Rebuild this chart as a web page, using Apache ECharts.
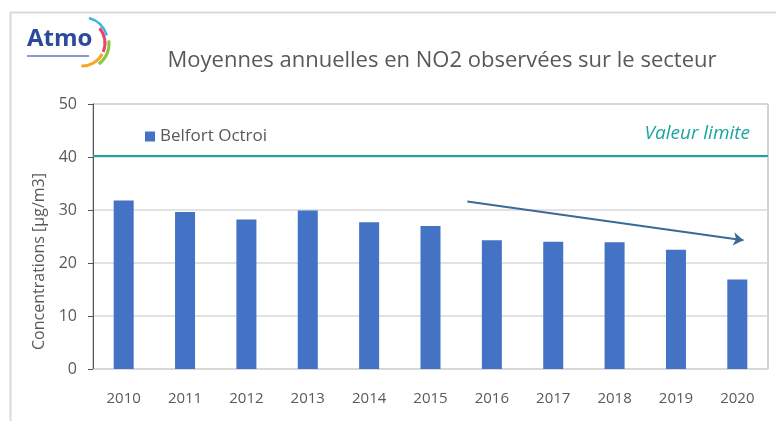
<!DOCTYPE html>
<html>
<head>
<meta charset="utf-8">
<script src="https://cdn.jsdelivr.net/npm/echarts@6/dist/echarts.min.js"></script>
<style>
html, body { margin: 0; padding: 0; background: #fff; }
#main { width: 776px; height: 421px; }
</style>
</head>
<body>
<div id="main"></div>
<script>
var years = ['2010', '2011', '2012', '2013', '2014', '2015', '2016', '2017', '2018', '2019', '2020'];
var belfortOctroi = [31.8, 29.6, 28.2, 29.9, 27.7, 27.0, 24.3, 24.0, 23.9, 22.5, 16.9];
var valeurLimite = 40.3;
// tendance (fleche) : positions en rang de categorie / valeur
var trendX = [6.1, 10.6];
var trendY = [31.6, 24.3];

var font = '"Open Sans", "Noto Sans", sans-serif';
var myChart = echarts.init(document.getElementById('main'));
var option = {
	animation: false,
	title: {
		text: 'Moyennes annuelles en NO2 observées sur le secteur',
		left: 437,
		top: 45,
		textAlign: 'center',
		textStyle: { fontFamily: font, fontSize: 22, fontWeight: 'normal', color: '#595959' }
	},
	legend: {
		data: ['Belfort Octroi'],
		left: 140,
		top: 123,
		icon: 'rect',
		itemWidth: 10,
		itemHeight: 10,
		itemGap: 8,
		textStyle: { fontFamily: font, fontSize: 17, color: '#595959' }
	},
	grid: {
		left: 93, right: 8, top: 104, bottom: 52,
		show: true, borderColor: '#a6a6a6', borderWidth: 1
	},
	xAxis: [{
		type: 'category',
		data: years,
		axisTick: { show: false },
		axisLine: { lineStyle: { color: '#d9d9d9' } },
		axisLabel: { fontFamily: font, fontSize: 15, color: '#595959', margin: 22 }
	}, {
		type: 'value',
		min: 0, max: 11,
		show: false
	}],
	yAxis: {
		type: 'value',
		min: 0, max: 50, interval: 10,
		name: 'Concentrations [µg/m3]',
		nameLocation: 'middle',
		nameGap: 44,
		nameTextStyle: { fontFamily: font, fontSize: 16, color: '#595959', padding: [0, 50, 0, 0] },
		axisLabel: { fontFamily: font, fontSize: 16, color: '#595959', margin: 16 },
		splitLine: { lineStyle: { color: '#d9d9d9', width: 1.5 } }
	},
	series: [{
		name: 'Belfort Octroi',
		type: 'bar',
		data: belfortOctroi,
		barWidth: 20,
		itemStyle: { color: '#4472c4' },
		markLine: {
			silent: true,
			symbol: 'none',
			lineStyle: { color: '#1aa6a0', width: 2, type: 'solid' },
			label: {
				position: 'insideEndTop',
				formatter: 'Valeur limite',
				fontFamily: font, fontSize: 19, fontStyle: 'italic',
				color: '#1aa6a0', distance: [18, 12]
			},
			data: [{ yAxis: valeurLimite }]
		}
	}, {
		name: 'tendance',
		type: 'line',
		xAxisIndex: 1,
		data: [],
		markLine: {
			silent: true,
			symbol: ['none', 'arrow'],
			symbolSize: 10,
			lineStyle: { color: '#3a6b96', width: 2, type: 'solid' },
			label: { show: false },
			data: [[{ coord: [trendX[0], trendY[0]] }, { coord: [trendX[1], trendY[1]] }]]
		}
	}],
	graphic: [
		{ type: 'rect', left: 8, top: 10, shape: { width: 820, height: 460 },
		  style: { fill: 'none', stroke: '#d9d9d9', lineWidth: 2 } },
		{ type: 'text', left: 27, top: 27,
		  style: { text: 'Atmo', fill: '#2b4a9a', font: 'bold 24px "Open Sans", sans-serif' } },
		{ type: 'rect', left: 27, top: 55, shape: { width: 62, height: 2 },
		  style: { fill: '#8a9bcc' } },
		{ type: 'arc', shape: { cx: 82, cy: 43, r: 26, startAngle: -1.3, endAngle: -0.3 },
		  style: { stroke: '#38b6e6', lineWidth: 2.5, fill: 'none' } },
		{ type: 'arc', shape: { cx: 82, cy: 43, r: 23, startAngle: -0.7, endAngle: 0.4 },
		  style: { stroke: '#e8456a', lineWidth: 3, fill: 'none' } },
		{ type: 'arc', shape: { cx: 82, cy: 43, r: 27, startAngle: -0.1, endAngle: 0.9 },
		  style: { stroke: '#8cc63f', lineWidth: 3, fill: 'none' } },
		{ type: 'arc', shape: { cx: 82, cy: 43, r: 23, startAngle: 0.5, endAngle: 1.6 },
		  style: { stroke: '#f5a623', lineWidth: 3, fill: 'none' } }
	]
};
myChart.setOption(option);
</script>
</body>
</html>
